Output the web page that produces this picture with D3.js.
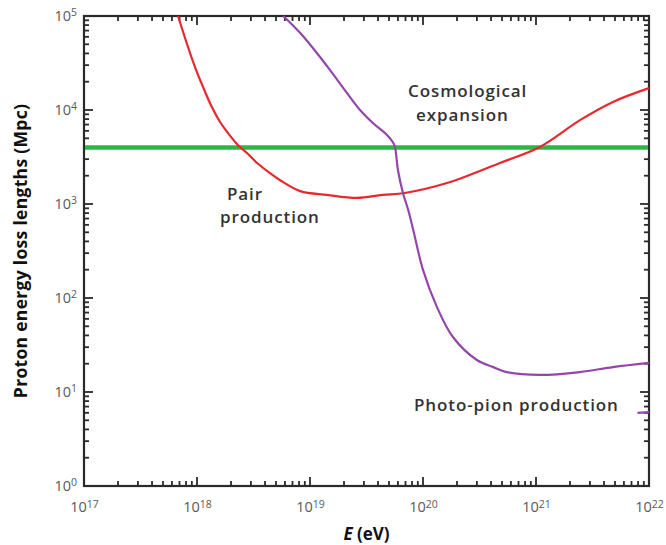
<!DOCTYPE html>
<html>
<head>
<meta charset="utf-8">
<script src="https://cdn.jsdelivr.net/npm/d3@7"></script>
<style>
  body { margin: 0; background: #fff; }
  svg { display: block; }
  text { font-family: "Open Sans", "Liberation Sans", sans-serif; }
</style>
</head>
<body>
<script>

// energies in eV, loss lengths in Mpc
var pairE = [6.8e17, 8.1e17, 9.6e17, 1.13e18, 1.35e18, 1.6e18, 1.88e18, 2.3e18, 2.77e18, 3.4e18, 4.4e18, 5.4e18, 8.2e18, 1.41e19, 2.6e19, 4.4e19, 6.9e19, 1.63e20, 4.8e20, 1.08e21, 2.45e21, 4.8e21, 1e22];
var pairL = [1e5, 51600, 28600, 17600, 10800, 7450, 5690, 4250, 3490, 2730, 2140, 1800, 1370, 1250, 1160, 1250, 1310, 1670, 2730, 4040, 7800, 12200, 17100];

var pionE = [5.8e18, 8.2e18, 1.15e19, 1.5e19, 2.12e19, 2.77e19, 3.6e19, 4.8e19, 5.4e19, 5.65e19, 6e19, 6.65e19, 7.4e19, 8.2e19, 1e20, 1.33e20, 1.84e20, 3e20, 4.2e20, 5.5e20, 1.08e21, 2.45e21, 4.8e21, 1e22];
var pionL = [1e5, 65900, 40400, 26700, 15200, 10000, 7280, 5420, 4570, 4040, 2300, 1310, 863, 529, 199, 80, 38.5, 21.9, 18.4, 16.3, 15.2, 16.3, 18.4, 20.4];

var pionStubE = [7.9e21, 1e22];
var pionStubL = [6.0, 6.1];

var cosmoL = 4000;

var xTicks = [1e17, 1e18, 1e19, 1e20, 1e21, 1e22];
var yTicks = [1e0, 1e1, 1e2, 1e3, 1e4, 1e5];

// each label line: text, left x, baseline y
var labelLines = [
  ["Cosmological", 408, 97],
  ["expansion", 416, 121],
  ["Pair", 227, 200],
  ["production", 220, 223],
  ["Photo-pion production", 414, 411]
];

var W = 666, H = 545;
var margins = {top: 16, left: 84, right: 17, bottom: 59};
var width = W - margins.left - margins.right;
var height = H - margins.top - margins.bottom;

var svg = d3.select("body").append("svg")
  .attr("width", W)
  .attr("height", H);

var plot = svg.append("g")
  .attr("transform", "translate(" + margins.left + "," + margins.top + ")");

var xScale = d3.scaleLog().domain([1e17, 1e22]).range([0, width]);
var yScale = d3.scaleLog().domain([1, 1e5]).range([height, 0]);

var minorX = [];
for (var p = 17; p < 22; p++) {
  for (var m = 2; m < 10; m++) minorX.push(m * Math.pow(10, p));
}
var minorY = [];
for (var q = 0; q < 5; q++) {
  for (var n = 2; n < 10; n++) minorY.push(n * Math.pow(10, q));
}

var supFormat = function(sel) {
  sel.selectAll(".tick text").each(function(d) {
    var t = d3.select(this);
    var e = Math.round(Math.log10(d));
    t.text("10");
    t.append("tspan").attr("dy", "-0.45em").attr("font-size", "10.5px").text(e);
  });
};

var styleAxis = function(g) {
  g.select(".domain").remove();
  g.selectAll(".tick line").remove();
  g.selectAll(".tick text").attr("fill", "#5a5a5a").attr("font-size", "14.5px");
};

// tick labels
plot.append("g").attr("transform", "translate(0," + height + ")")
  .call(d3.axisBottom(xScale).tickValues(xTicks).tickSize(0).tickPadding(16))
  .call(styleAxis)
  .call(supFormat);
plot.append("g")
  .call(d3.axisLeft(yScale).tickValues(yTicks).tickSize(0).tickPadding(7))
  .call(styleAxis)
  .call(supFormat);

// inward tick marks on all four sides
var tickColor = "#2a2a2a";
var ticks = plot.append("g").attr("stroke", tickColor).attr("stroke-width", 1.8);

var xTickData = xTicks.map(function(v) { return {v: v, len: 9}; })
  .concat(minorX.map(function(v) { return {v: v, len: 5}; }));
var yTickData = yTicks.map(function(v) { return {v: v, len: 9}; })
  .concat(minorY.map(function(v) { return {v: v, len: 5}; }));

ticks.selectAll("line.bx").data(xTickData).enter().append("line").classed("bx", true)
  .attr("x1", function(d) { return xScale(d.v); }).attr("x2", function(d) { return xScale(d.v); })
  .attr("y1", height).attr("y2", function(d) { return height - d.len; });
ticks.selectAll("line.tx").data(xTickData).enter().append("line").classed("tx", true)
  .attr("x1", function(d) { return xScale(d.v); }).attr("x2", function(d) { return xScale(d.v); })
  .attr("y1", 0).attr("y2", function(d) { return d.len; });
ticks.selectAll("line.ly").data(yTickData).enter().append("line").classed("ly", true)
  .attr("y1", function(d) { return yScale(d.v); }).attr("y2", function(d) { return yScale(d.v); })
  .attr("x1", 0).attr("x2", function(d) { return d.len; });
ticks.selectAll("line.ry").data(yTickData).enter().append("line").classed("ry", true)
  .attr("y1", function(d) { return yScale(d.v); }).attr("y2", function(d) { return yScale(d.v); })
  .attr("x1", width).attr("x2", function(d) { return width - d.len; });

plot.append("rect")
  .attr("x", 0).attr("y", 0)
  .attr("width", width).attr("height", height)
  .attr("fill", "none")
  .attr("stroke", tickColor).attr("stroke-width", 2.2);

var line = d3.line()
  .x(function(d) { return xScale(d[0]); })
  .y(function(d) { return yScale(d[1]); })
  .curve(d3.curveCatmullRom.alpha(0.5));

var zip = function(a, b) { return a.map(function(v, i) { return [v, b[i]]; }); };

// cosmological expansion
plot.append("line")
  .attr("x1", 1).attr("x2", width - 1)
  .attr("y1", yScale(cosmoL)).attr("y2", yScale(cosmoL))
  .attr("stroke", "#2fb546").attr("stroke-width", 4.5);

plot.append("path")
  .datum(zip(pairE, pairL))
  .attr("d", line)
  .attr("fill", "none").attr("stroke", "#e8282c").attr("stroke-width", 2.2);

plot.append("path")
  .datum(zip(pionE, pionL))
  .attr("d", line)
  .attr("fill", "none").attr("stroke", "#9446ab").attr("stroke-width", 2.2);

plot.append("path")
  .datum(zip(pionStubE, pionStubL))
  .attr("d", line)
  .attr("fill", "none").attr("stroke", "#9446ab").attr("stroke-width", 2.2);

// curve labels
svg.selectAll("text.curveLabel")
  .data(labelLines)
  .enter()
  .append("text")
  .classed("curveLabel", true)
  .attr("x", function(d) { return d[1]; })
  .attr("y", function(d) { return d[2]; })
  .attr("font-size", "17px")
  .attr("font-weight", 600)
  .attr("letter-spacing", "0.9px")
  .attr("fill", "#333")
  .text(function(d) { return d[0]; });

// axis titles
svg.append("text")
  .attr("transform", "translate(27," + (margins.top + height / 2) + ") rotate(-90)")
  .attr("text-anchor", "middle")
  .attr("font-size", "17.5px")
  .attr("font-weight", 700)
  .attr("letter-spacing", "0.3px")
  .attr("fill", "#111")
  .text("Proton energy loss lengths (Mpc)");

var xt = svg.append("text")
  .attr("x", margins.left + width / 2).attr("y", 540)
  .attr("text-anchor", "middle")
  .attr("font-size", "17px")
  .attr("font-weight", 700)
  .attr("fill", "#111");
xt.append("tspan").attr("font-style", "italic").text("E");
xt.append("tspan").text(" (eV)");

</script>
</body>
</html>
